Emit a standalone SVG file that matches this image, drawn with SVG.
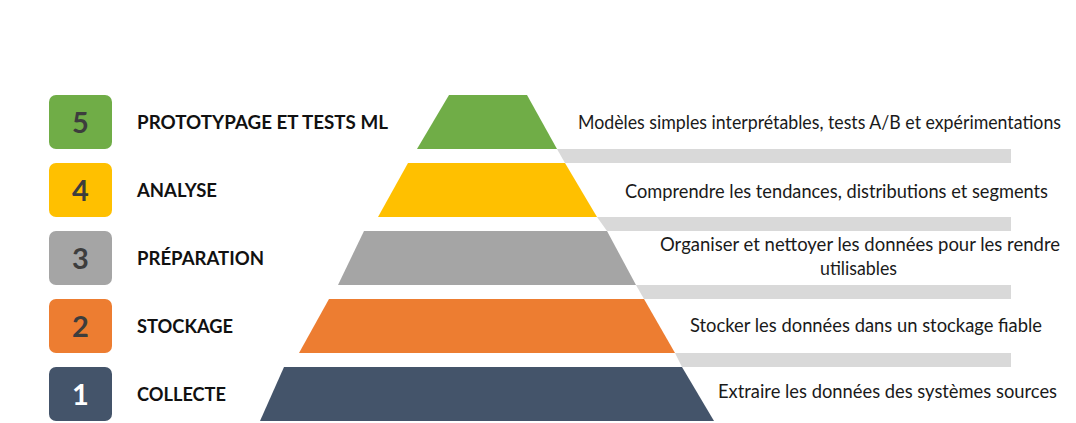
<svg xmlns="http://www.w3.org/2000/svg" width="1076" height="423" viewBox="0 0 1076 423">
  <style>
    .box { stroke: none; }
    .num { font-family: Lato, "Open Sans", sans-serif; font-weight: 700; font-size: 29px; text-anchor: middle; fill: #3d3d3d; }
    .numw { fill: #ffffff; }
    .lbl { font-family: Lato, "Open Sans", sans-serif; font-weight: 700; font-size: 19px; fill: #111111; }
    .desc { font-family: Lato, "Open Sans", sans-serif; font-size: 18.5px; fill: #1a1a1a; }
    .bar { fill: #d9d9d9; }
  </style>
  <rect width="1076" height="423" fill="#ffffff"/>
  <g id="connectors">
    <polygon class="bar" points="557,149 1011,149 1011,163 565,163"/>
    <polygon class="bar" points="597,217 1011,217 1011,231 607,231"/>
    <polygon class="bar" points="636,285 1011,285 1011,299 644,299"/>
    <polygon class="bar" points="675,353 1011,353 1011,367 682,367"/>
  </g>
  <g id="level5">
    <rect class="box" x="49" y="95" width="63" height="54" rx="7" fill="#70ad47"/>
    <text class="num" x="80.5" y="133">5</text>
    <text class="lbl" x="137" y="129" textLength="251" lengthAdjust="spacingAndGlyphs">PROTOTYPAGE ET TESTS ML</text>
    <polygon points="449,95 527,95 557,149 417,149" fill="#70ad47"/>
    <text class="desc" x="1061" y="129" text-anchor="end" textLength="483" lengthAdjust="spacingAndGlyphs">Modèles simples interprétables, tests A/B et expérimentations</text>
  </g>
  <g id="level4">
    <rect class="box" x="49" y="163" width="63" height="54" rx="7" fill="#ffc000"/>
    <text class="num" x="80.5" y="201">4</text>
    <text class="lbl" x="137" y="197" textLength="80" lengthAdjust="spacingAndGlyphs">ANALYSE</text>
    <polygon points="408,163 565,163 597,217 378,217" fill="#ffc000"/>
    <text class="desc" x="625" y="198" textLength="423" lengthAdjust="spacingAndGlyphs">Comprendre les tendances, distributions et segments</text>
  </g>
  <g id="level3">
    <rect class="box" x="49" y="231" width="63" height="54" rx="7" fill="#a5a5a5"/>
    <text class="num" x="80.5" y="269">3</text>
    <text class="lbl" x="137" y="265" textLength="127" lengthAdjust="spacingAndGlyphs">PRÉPARATION</text>
    <polygon points="364,231 607,231 636,285 338,285" fill="#a5a5a5"/>
    <text class="desc" x="660" y="251" textLength="400" lengthAdjust="spacingAndGlyphs">Organiser et nettoyer les données pour les rendre</text>
    <text class="desc" x="820" y="275" textLength="77" lengthAdjust="spacingAndGlyphs">utilisables</text>
  </g>
  <g id="level2">
    <rect class="box" x="49" y="299" width="63" height="54" rx="7" fill="#ed7d31"/>
    <text class="num" x="80.5" y="337">2</text>
    <text class="lbl" x="137" y="333" textLength="96" lengthAdjust="spacingAndGlyphs">STOCKAGE</text>
    <polygon points="329,299 644,299 675,353 299,353" fill="#ed7d31"/>
    <text class="desc" x="690" y="332" textLength="352" lengthAdjust="spacingAndGlyphs">Stocker les données dans un stockage fiable</text>
  </g>
  <g id="level1">
    <rect class="box" x="49" y="367" width="63" height="54" rx="7" fill="#44546a"/>
    <text class="num numw" x="80.5" y="405">1</text>
    <text class="lbl" x="137" y="401" textLength="89" lengthAdjust="spacingAndGlyphs">COLLECTE</text>
    <polygon points="284,367 682,367 714,421 260,421" fill="#44546a"/>
    <text class="desc" x="718" y="398" textLength="339" lengthAdjust="spacingAndGlyphs">Extraire les données des systèmes sources</text>
  </g>
</svg>
